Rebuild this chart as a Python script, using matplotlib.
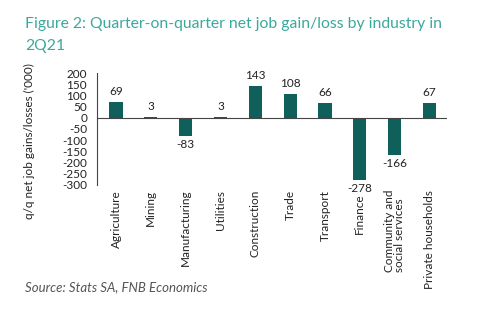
import matplotlib.pyplot as plt
import numpy as np

industries = ['Agriculture', 'Mining', 'Manufacturing', 'Utilities', 'Construction',
              'Trade', 'Transport', 'Finance', 'Community and\nsocial services',
              'Private households']
change = [69, 3, -83, 3, 143, 108, 66, -278, -166, 67]
yticks = list(range(-300, 201, 50))

plt.rcParams['font.family'] = ['Lato', 'DejaVu Sans']

fig = plt.figure(figsize=(4.82, 3.29), dpi=100)
ax = fig.add_axes([0.201, 0.438, 0.726, 0.34])

x = np.arange(len(industries))
ax.bar(x, change, width=0.38, color='#0f5f5b', zorder=2)

for xi, v in zip(x, change):
    if v >= 0:
        ax.text(xi, v + 22, str(v), ha='center', va='bottom', fontsize=8.5, color='#222222')
    else:
        ax.text(xi, v - 12, str(v), ha='center', va='top', fontsize=8.5, color='#222222')

ax.set_xlim(-0.55, len(industries) - 0.5)
ax.set_ylim(-300, 200)
ax.set_yticks(yticks)
ax.set_yticklabels([str(t) for t in yticks], fontsize=8.5, color='#222222')
ax.tick_params(axis='y', length=0, pad=7)
ax.set_xticks([])
ax.axhline(0, color='#444444', lw=0.8, zorder=3)

for s in ['top', 'right', 'bottom']:
    ax.spines[s].set_visible(False)
ax.spines['left'].set_color('#444444')
ax.spines['left'].set_linewidth(0.8)

# category labels hang below the plot, rotated
for xi, name in zip(x, industries):
    y0 = -340 if name == 'Finance' else -322
    ax.text(xi, y0, name, rotation=90, ha='center', va='top', fontsize=8.5,
            color='#222222', multialignment='left', linespacing=0.95)

fig.text(0.062, 0.57, "q/q net job gains/losses ('000)", rotation=90, ha='center',
         va='center', fontsize=8.5, color='#222222')

fig.text(0.052, 0.915, 'Figure 2: Quarter-on-quarter net job gain/loss by industry in',
         fontsize=11.3, color='#3aa89c')
fig.text(0.052, 0.848, '2Q21', fontsize=11.3, color='#3aa89c')
fig.text(0.052, 0.115, 'Source: Stats SA, FNB Economics', fontsize=9.5,
         color='#555555', style='italic')

fig.savefig('out.png', dpi=100)
